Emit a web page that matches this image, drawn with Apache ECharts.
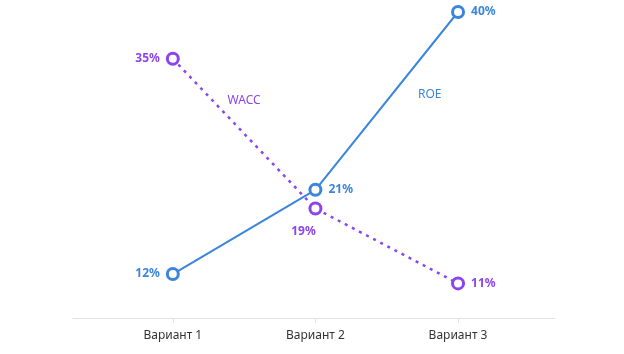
<!DOCTYPE html>
<html lang="ru">
<head>
    <meta charset="UTF-8">
    <title>ROE / WACC</title>
    <script src="https://cdn.jsdelivr.net/npm/echarts@6/dist/echarts.min.js"></script>
    <style>
        *{ margin:0; padding:0; }
        #main{ width:624px; height:354px; }
    </style>
</head>
<body>
<div id="main"></div>
<script>
    var categories = ['Вариант 1', 'Вариант 2', 'Вариант 3'];
    var roe = [12, 21, 40];
    var wacc = [35, 19, 11];
    var roeLabelPos = ['left', 'right', 'right'];
    var waccLabelPos = ['left', 'bottom', 'right'];

    var blue = '#3b86dc';
    var purple = '#8c45ee';
    var font = 'Noto Sans';

    function points(values, positions) {
        return values.map(function (v, i) {
            var lbl = { position: positions[i] };
            if (positions[i] === 'bottom') {
                lbl.offset = [-12, 4];
            }
            return { value: [i, v], label: lbl };
        });
    }

    // подпись серии посередине отрезка
    function nameMark(text, coord, color, offset) {
        return {
            symbol: 'circle',
            symbolSize: 1,
            itemStyle: { color: 'rgba(0,0,0,0)', borderWidth: 0 },
            data: [{ coord: coord }],
            label: {
                show: true,
                position: 'inside',
                formatter: text,
                color: color,
                fontFamily: font,
                fontSize: 12,
                fontWeight: 'normal',
                offset: offset
            }
        };
    }

    var chart = echarts.init(document.getElementById('main'));

    var option = {
        animation: false,
        grid: { left: 73, right: 69, top: 12, bottom: 36 },
        xAxis: {
            type: 'value',
            min: -0.70,
            max: 2.68,
            splitLine: { show: false },
            axisLine: { show: true, lineStyle: { color: '#e3e3e3', width: 1 } },
            axisTick: { show: true, customValues: [0, 1, 2], length: 5, lineStyle: { color: '#e3e3e3' } },
            axisLabel: {
                customValues: [0, 1, 2],
                formatter: function (v) { return categories[Math.round(v)]; },
                color: '#333',
                fontFamily: font,
                fontSize: 12,
                margin: 12
            }
        },
        yAxis: {
            type: 'value',
            min: 7.3,
            max: 40,
            show: false
        },
        series: [
            {
                name: 'ROE',
                type: 'line',
                data: points(roe, roeLabelPos),
                symbol: 'circle',
                symbolSize: 11,
                color: blue,
                lineStyle: { color: blue, width: 2 },
                itemStyle: { color: '#fff', borderColor: blue, borderWidth: 3 },
                label: {
                    show: true,
                    formatter: function (p) { return p.value[1] + '%'; },
                    color: blue,
                    fontFamily: font,
                    fontWeight: 'bold',
                    fontSize: 12,
                    distance: 6
                },
                markPoint: nameMark('ROE', [1.5, (roe[1] + roe[2]) / 2], blue, [43, -6]),
                z: 3
            },
            {
                name: 'WACC',
                type: 'line',
                data: points(wacc, waccLabelPos),
                symbol: 'circle',
                symbolSize: 11,
                color: purple,
                lineStyle: { color: purple, width: 2.5, type: [3, 5] },
                itemStyle: { color: '#fff', borderColor: purple, borderWidth: 3 },
                label: {
                    show: true,
                    formatter: function (p) { return p.value[1] + '%'; },
                    color: purple,
                    fontFamily: font,
                    fontWeight: 'bold',
                    fontSize: 12,
                    distance: 6
                },
                markPoint: nameMark('WACC', [0.5, (wacc[0] + wacc[1]) / 2], purple, [0, -33]),
                z: 2
            }
        ]
    };

    chart.setOption(option);
</script>
</body>
</html>
